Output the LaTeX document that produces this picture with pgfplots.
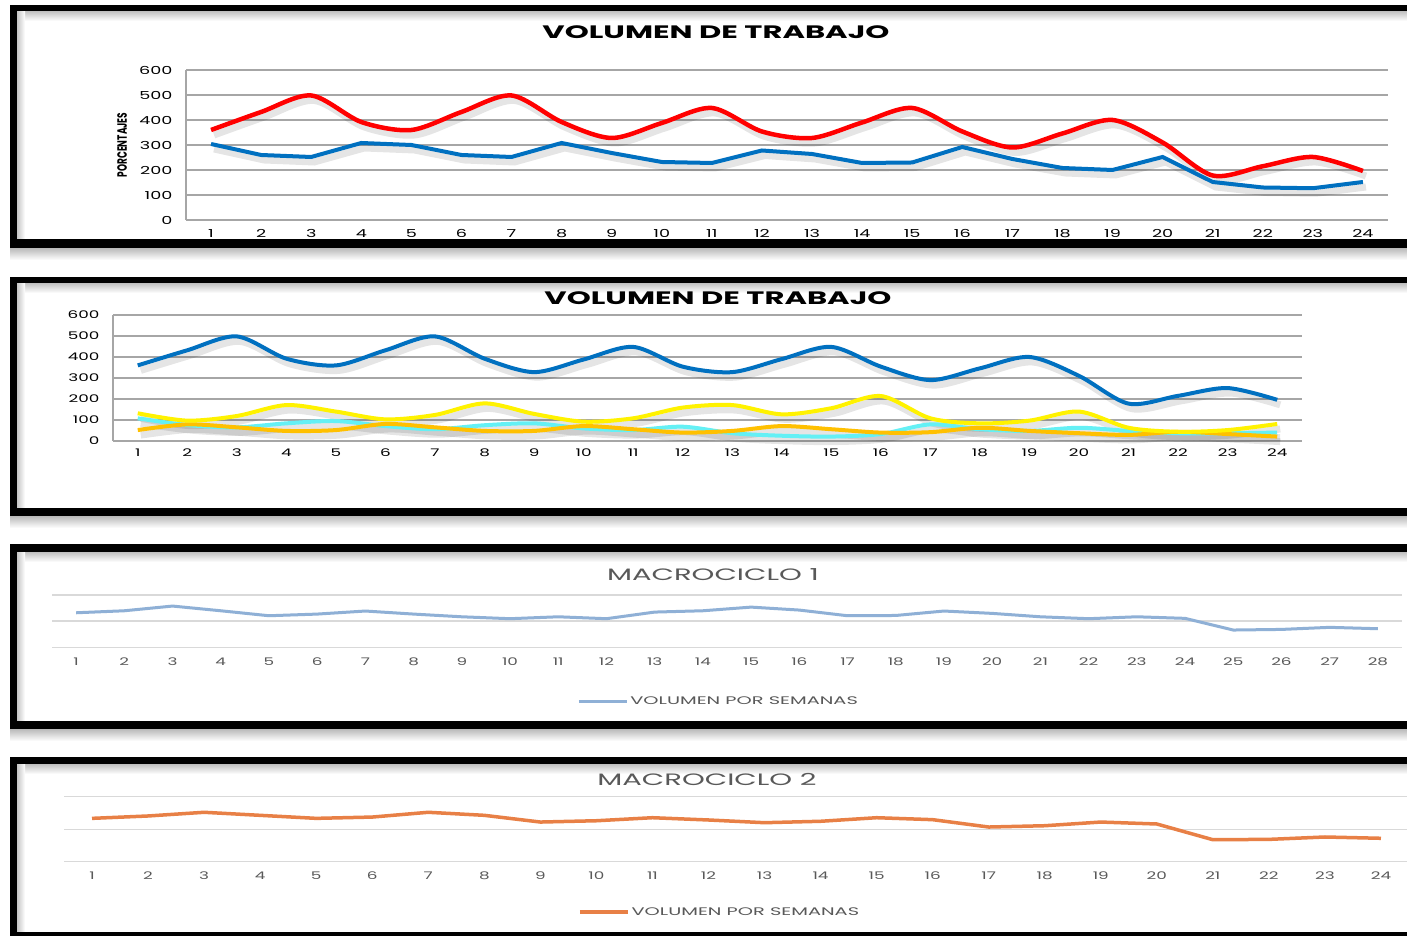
\documentclass[border=0pt]{standalone}
\usepackage{pgfplots}
\pgfplotsset{compat=1.18}
\usepackage{pgfplotstable}
\usepackage{fontspec}
\setmainfont{Poppins}
\newfontfamily\wf[FakeStretch=1.6]{Poppins}
\newfontfamily\wt[FakeStretch=1.7]{Poppins}
\newfontfamily\wm[FakeStretch=1.76]{Poppins}
\definecolor{rblue}{RGB}{0,112,192}
\definecolor{ccyan}{RGB}{100,240,245}
\definecolor{corange}{RGB}{255,192,0}
\definecolor{mblue}{RGB}{143,176,214}
\definecolor{morange}{RGB}{232,128,70}
\definecolor{mgray}{RGB}{89,89,89}

\pgfplotstableread{
x r b y c o
1 360 304 132 108 52
2 432 260 97 76 79
3 498 252 119 65 65
4 392 308 171 84 48
5 360 300 140 95 52
6 432 260 103 71 81
7 498 252 124 56 65
8 392 308 179 75 48
9 328 268 129 84 48
10 388 232 92 60 71
11 448 228 108 52 56
12 354 278 159 68 40
13 328 264 171 37 48
14 390 228 127 25 71
15 448 230 156 21 56
16 354 292 214 33 40
17 290 244 108 79 42
18 346 208 84 56 63
19 400 200 97 48 48
20 310 252 140 63 37
21 178 152 63 48 29
22 215 130 44 37 44
23 252 127 52 37 33
24 196 152 81 40 21
}\tabA

\pgfplotstableread{
x m
1 396
2 419
3 473
4 419
5 362
6 381
7 416
8 381
9 350
10 328
11 350
12 328
13 404
14 419
15 461
16 427
17 362
18 365
19 416
20 389
21 350
22 328
23 350
24 332
25 198
26 205
27 229
28 213
}\tabB

\pgfplotstableread{
x m
1 400
2 422
3 456
4 428
5 400
6 412
7 456
8 428
9 366
10 378
11 406
12 385
13 360
14 373
15 406
16 388
17 320
18 332
19 366
20 348
21 203
22 206
23 228
24 216
}\tabC

\pgfplotsset{
  shadowline/.style={black, opacity=0.10, line width=7pt, xshift=3pt, yshift=-5pt},
}

\begin{document}
\begin{tikzpicture}
\useasboundingbox (0pt,0pt) rectangle (1407pt,936pt);
\begin{scope}[x=1pt,y=1pt]
\clip (0,0) rectangle (1407,936);
\fill[white] (0,0) rectangle (1407,936);
% panel frames
\foreach \ob/\ot/\ib/\it in {688/931/697/924, 420/659/428/652, 207/392/215/383, -5/179/4/171}{
  \shade[top color=gray!55, bottom color=white] (10,\ob-12) rectangle (1420,\ob);
  \fill[black] (10,\ob) rectangle (1420,\ot);
  \fill[white] (17,\ib) rectangle (1420,\it);
  \shade[top color=gray!45, bottom color=white] (17,\it-9) rectangle (1420,\it);
  \shade[left color=gray!45, right color=white] (17,\ib) rectangle (25,\it);
}
% titles
\node[font=\wt\bfseries\fontsize{18}{18}\selectfont] at (716,904) {VOLUMEN DE TRABAJO};
\node[font=\wt\bfseries\fontsize{18}{18}\selectfont] at (718,638) {VOLUMEN DE TRABAJO};
\node[font=\wm\fontsize{16.5}{16.5}\selectfont, text=mgray] at (713,361) {MACROCICLO 1};
\node[font=\wm\fontsize{16.5}{16.5}\selectfont, text=mgray] at (707,157) {MACROCICLO 2};
\node[font=\bfseries\fontsize{9}{9}\selectfont, rotate=90, yscale=1.5, transform shape] at (122,791) {PORCENTAJES};
\end{scope}

% Panel 1
\begin{axis}[at={(186pt,716pt)}, anchor=south west, scale only axis,
  width=1202pt, height=150pt, xmin=0.5, xmax=24.5, ymin=0, ymax=600,
  xtick={1,...,24}, ytick={0,100,...,600}, ymajorgrids,
  grid style={color=gray!70, line width=1.3pt},
  axis x line*=bottom, axis y line*=left,
  axis line style={gray!70, line width=1.3pt, -},
  major tick length=0pt,
  tick label style={font=\wf\fontsize{11}{11}\selectfont},
  /pgf/number format/assume math mode=true,
  xticklabel style={yshift=-6pt}, yticklabel style={xshift=-10pt},
  clip=false]
\addplot[shadowline, smooth] table[x=x,y=r] {\tabA};
\addplot[shadowline] table[x=x,y=b] {\tabA};
\addplot[red, line width=4.5pt, smooth] table[x=x,y=r] {\tabA};
\addplot[rblue, line width=4pt] table[x=x,y=b] {\tabA};
\end{axis}

% Panel 2
\begin{axis}[at={(113pt,495pt)}, anchor=south west, scale only axis,
  width=1189pt, height=126pt, xmin=0.5, xmax=24.5, ymin=0, ymax=600,
  xtick={1,...,24}, ytick={0,100,...,600}, ymajorgrids,
  grid style={color=gray!70, line width=1.3pt},
  axis x line*=bottom, axis y line*=left,
  axis line style={gray!70, line width=1.3pt, -},
  major tick length=0pt,
  tick label style={font=\wf\fontsize{10.5}{10.5}\selectfont},
  /pgf/number format/assume math mode=true,
  xticklabel style={yshift=-4pt}, yticklabel style={xshift=-10pt},
  clip=false]
\addplot[shadowline, smooth] table[x=x,y=r] {\tabA};
\addplot[shadowline, smooth] table[x=x,y=y] {\tabA};
\addplot[shadowline, smooth] table[x=x,y=c] {\tabA};
\addplot[shadowline, smooth] table[x=x,y=o] {\tabA};
\addplot[ccyan, line width=4pt, smooth] table[x=x,y=c] {\tabA};
\addplot[corange, line width=4pt, smooth] table[x=x,y=o] {\tabA};
\addplot[yellow, line width=4pt, smooth] table[x=x,y=y] {\tabA};
\addplot[rblue, line width=4pt, smooth] table[x=x,y=r] {\tabA};
\end{axis}

% Panel 3
\begin{axis}[at={(52pt,288.7pt)}, anchor=south west, scale only axis,
  width=1350pt, height=52.3pt, xmin=0.5, xmax=28.5, ymin=0, ymax=600,
  xtick={1,...,28}, ytick={0,300,600}, yticklabels={}, ymajorgrids,
  grid style={color=gray!30, line width=1.3pt},
  axis line style={draw=none},
  major tick length=0pt,
  tick label style={font=\wf\fontsize{10.5}{10.5}\selectfont, text=mgray},
  /pgf/number format/assume math mode=true,
  xticklabel style={yshift=-7pt},
  legend style={at={(0.389,-1.027)}, anchor=west, draw=none, fill=none,
    inner sep=0pt, font=\wm\fontsize{11}{11}\selectfont, text=mgray},
  legend image code/.code={\draw[#1, line width=3pt] (0pt,0pt) -- (48pt,0pt);},
  clip=false]
\addplot[mblue, line width=3pt] table[x=x,y=m] {\tabB};
\addlegendentry{VOLUMEN POR SEMANAS}
\end{axis}

% Panel 4
\begin{axis}[at={(64pt,74.3pt)}, anchor=south west, scale only axis,
  width=1345pt, height=65pt, xmin=0.5, xmax=24.5, ymin=0, ymax=600,
  xtick={1,...,24}, ytick={0,300,600}, yticklabels={}, ymajorgrids,
  grid style={color=gray!30, line width=1.3pt},
  axis line style={draw=none},
  major tick length=0pt,
  tick label style={font=\wf\fontsize{10.5}{10.5}\selectfont, text=mgray},
  /pgf/number format/assume math mode=true,
  xticklabel style={yshift=-7pt},
  legend style={at={(0.3821,-0.774)}, anchor=west, draw=none, fill=none,
    inner sep=0pt, font=\wm\fontsize{11}{11}\selectfont, text=mgray},
  legend image code/.code={\draw[#1, line width=3.5pt] (0pt,0pt) -- (48pt,0pt);},
  clip=false]
\addplot[morange, line width=3.5pt] table[x=x,y=m] {\tabC};
\addlegendentry{VOLUMEN POR SEMANAS}
\end{axis}
\end{tikzpicture}
\end{document}
